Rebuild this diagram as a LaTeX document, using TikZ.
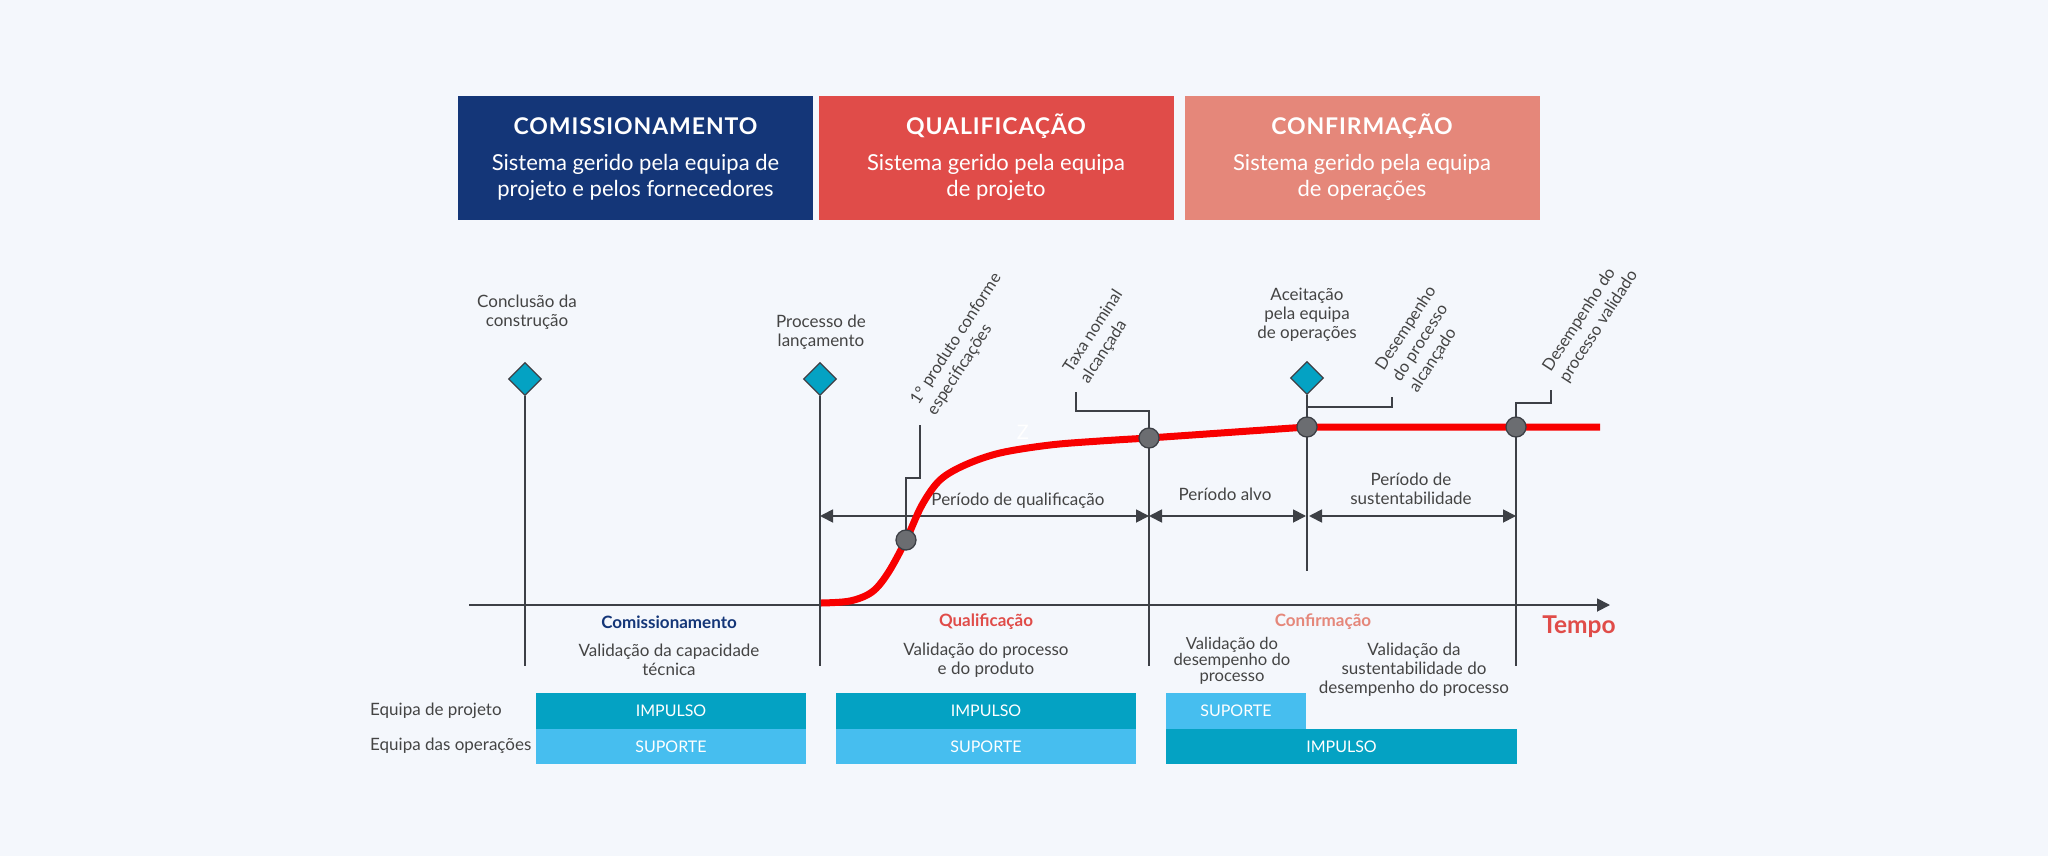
\documentclass[tikz,border=0pt]{standalone}
\usepackage{fontspec}
\setmainfont{Lato}
\usetikzlibrary{arrows.meta,shapes.geometric}
\definecolor{bgc}{HTML}{F4F7FC}
\definecolor{navy}{HTML}{143678}
\definecolor{qred}{HTML}{E04C49}
\definecolor{salmon}{HTML}{E5877A}
\definecolor{tealc}{HTML}{04A2C3}
\definecolor{lblue}{HTML}{46BEEF}
\definecolor{lgray}{HTML}{3D4046}
\definecolor{tgray}{HTML}{444444}
\definecolor{cgray}{HTML}{6B6D71}
\definecolor{curvec}{HTML}{F80000}
\begin{document}
\begin{tikzpicture}[x=1pt,y=-1pt,
  hdrbox/.style={inner sep=0pt, minimum width=355pt, minimum height=124pt},
  htitle/.style={text=white, inner sep=0pt, anchor=base, font=\bfseries\fontsize{23}{26}\selectfont\addfontfeature{LetterSpace=4}},
  hsub/.style={text=white, inner sep=0pt, align=center, font=\fontsize{22}{26}\selectfont},
  vline/.style={draw=lgray, line width=1.8pt},
  dia/.style={diamond, fill=tealc, draw=lgray, line width=1.3pt, minimum width=33pt, minimum height=33pt, inner sep=0pt},
  dot/.style={circle, fill=cgray, draw=lgray, line width=1.3pt, minimum size=20pt, inner sep=0pt},
  lbl/.style={align=center, text=tgray, inner sep=0pt, font=\fontsize{17}{19}\selectfont},
  rlbl/.style={align=left, text=tgray, rotate=57, anchor=south west, inner sep=0pt, font=\fontsize{16.5}{20}\selectfont},
  phase/.style={inner sep=0pt, font=\bfseries\fontsize{17}{19}\selectfont},
  barbox/.style={inner sep=0pt, text=white, font=\fontsize{16}{18}\selectfont},
  rowlbl/.style={anchor=west, inner sep=0pt, text=tgray, font=\fontsize{17}{19}\selectfont},
  darrow/.style={draw=lgray, line width=1.8pt, {Triangle[length=13pt,width=13pt]}-{Triangle[length=13pt,width=13pt]}},
  curveline/.style={draw=curvec, line width=7pt},
]
\fill[bgc] (0,0) rectangle (2048,856);

% header boxes
\node[hdrbox, fill=navy] (h1) at (635.5,158) {};
\node[hdrbox, fill=qred] (h2) at (996,158) {};
\node[hdrbox, fill=salmon] (h3) at (1362,158) {};
\node[htitle] (h1t) at (635.5,135) {COMISSIONAMENTO};
\node[htitle] (h2t) at (996,135) {QUALIFICAÇÃO};
\node[htitle] (h3t) at (1362,135) {CONFIRMAÇÃO};
\node[hsub] (h1s) at (635.5,177) {Sistema gerido pela equipa de\\projeto e pelos fornecedores};
\node[hsub] (h2s) at (996,177) {Sistema gerido pela equipa\\de projeto};
\node[hsub] (h3s) at (1362,177) {Sistema gerido pela equipa\\de operações};

% key points
\coordinate (p1) at (906,540);
\coordinate (p2) at (1149,438);
\coordinate (p3) at (1307,427);
\coordinate (p4) at (1516,427);
\coordinate (a0) at (525,666);
\coordinate (b0) at (820,666);
\coordinate (c0) at (1149,666);
\coordinate (d0) at (1307,571);
\coordinate (e0) at (1516,666);

% diamonds
\node[dia] (dA) at (525,379) {};
\node[dia] (dB) at (820,379) {};
\node[dia] (dD) at (1307,378) {};

% vertical lines
\draw[vline] (dA.south) -- (a0);
\draw[vline] (dB.south) -- (b0);
\draw[vline] (p2) -- (c0);
\draw[vline] (dD.south) -- (d0);
\draw[vline] (p4) -- (e0);

% axis
\coordinate (ax0) at (469,605);
\coordinate (ax1) at (1610,605);
\draw[draw=lgray, line width=1.8pt, -{Triangle[length=13pt,width=13pt]}] (ax0) -- (ax1);
\node[inner sep=0pt, text=qred, font=\bfseries\fontsize{24.5}{28}\selectfont] (tempo) at (1579,627) {Tempo};

% period arrows
\coordinate (q0) at (820,516);
\coordinate (q1) at (1149,516);
\coordinate (r1) at (1306,516);
\coordinate (s0) at (1309,516);
\coordinate (s1) at (1516,516);
\draw[darrow] (q0) -- (q1);
\draw[darrow] (q1) -- (r1);
\draw[darrow] (s0) -- (s1);
\node[lbl] (pq) at (1018,501) {Período de qualificação};
\node[lbl] (pa) at (1225,494) {Período alvo};
\node[lbl] (ps) at (1411,489) {Período de\\sustentabilidade};

% leaders
\coordinate (k1) at (920,478);
\coordinate (t1) at (920,425);
\coordinate (k2) at (1076,411);
\coordinate (t2) at (1076,392);
\coordinate (k3a) at (1307,407);
\coordinate (k3) at (1392,407);
\coordinate (t3) at (1392,397);
\coordinate (k4) at (1551,403);
\coordinate (t4) at (1551,390);
\draw[vline] (p1) |- (k1) -- (t1);
\draw[vline] (p2) |- (k2) -- (t2);
\draw[vline] (k3a) -- (k3) -- (t3);
\draw[vline] (p4) |- (k4) -- (t4);

% rotated labels
\node[rlbl] (r1l) at (938,418) {1° produto conforme\\especificações};
\node[rlbl] (r2l) at (1091,386) {Taxa nominal\\alcançada};
\node[rlbl] (r3l) at (1420,395) {Desempenho\\do processo\\alcançado};
\node[rlbl] (r4l) at (1570,385) {Desempenho do\\processo validado};

% curve
\draw[curveline] plot[smooth, tension=0.55] coordinates {(821,603) (850,601) (872,592) (888,573) (906,540) (922,505) (940,480) (965,465) (1000,453) (1050,445) (1100,441) (1149,438)} -- (p3) -- (1600,427);
\node[inner sep=0pt, text=white, font=\fontsize{20}{22}\selectfont] (zz) at (1023,432) {Z};

% circles
\node[dot] (c1) at (p1) {};
\node[dot] (c2) at (p2) {};
\node[dot] (c3) at (p3) {};
\node[dot] (c4) at (p4) {};

% top labels
\node[lbl] (la) at (527,312) {Conclusão da\\construção};
\node[lbl] (lb) at (821,332) {Processo de\\lançamento};
\node[lbl] (ld) at (1307,315) {Aceitação\\pela equipa\\de operações};

% phase labels below axis
\node[phase, text=navy] (f1) at (669,622) {Comissionamento};
\node[phase, text=qred] (f2) at (986,622) {Qualificação};
\node[phase, text=salmon] (f3) at (1323,622) {Confirmação};
\node[lbl] (v1) at (669,660) {Validação da capacidade\\técnica};
\node[lbl] (v2) at (986,660) {Validação do processo\\e do produto};
\node[lbl, font=\fontsize{16.6}{16.2}\selectfont] (v3) at (1232,661) {Validação do\\desempenho do\\processo};
\node[lbl] (v4) at (1414,670) {Validação da\\sustentabilidade do\\desempenho do processo};

% bars
\node[rowlbl] (rp) at (370,711) {Equipa de projeto};
\node[rowlbl] (ro) at (370,746) {Equipa das operações};
\node[barbox, fill=tealc, minimum width=270pt, minimum height=36pt] (b1i) at (671,711) {IMPULSO};
\node[barbox, fill=lblue, minimum width=270pt, minimum height=35pt] (b1s) at (671,746.5) {SUPORTE};
\node[barbox, fill=tealc, minimum width=300pt, minimum height=36pt] (b2i) at (986,711) {IMPULSO};
\node[barbox, fill=lblue, minimum width=300pt, minimum height=35pt] (b2s) at (986,746.5) {SUPORTE};
\node[barbox, fill=lblue, minimum width=140pt, minimum height=36pt] (b3s) at (1236,711) {SUPORTE};
\node[barbox, fill=tealc, minimum width=351pt, minimum height=35pt] (b3i) at (1341.5,746.5) {IMPULSO};
\end{tikzpicture}
\end{document}
